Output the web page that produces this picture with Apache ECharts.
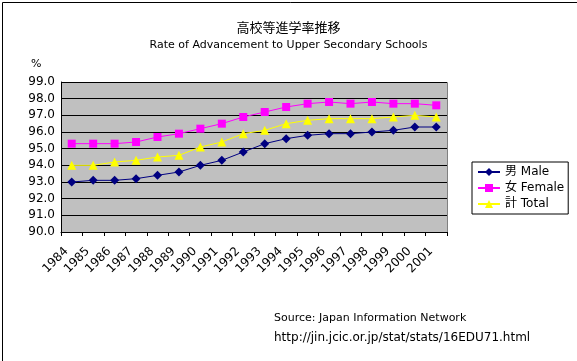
<!DOCTYPE html>
<html><head><meta charset="utf-8">
<script src="https://cdn.jsdelivr.net/npm/echarts@6/dist/echarts.min.js"></script>
<style>html,body{margin:0;padding:0;background:#fff}#c{width:577px;height:361px}</style>
</head><body><div id="c"></div>
<script>
const years = ['1984','1985','1986','1987','1988','1989','1990','1991','1992','1993','1994','1995','1996','1997','1998','1999','2000','2001'];
const male   = [93.0,93.1,93.1,93.2,93.4,93.6,94.0,94.3,94.8,95.3,95.6,95.8,95.9,95.9,96.0,96.1,96.3,96.3];
const female = [95.3,95.3,95.3,95.4,95.7,95.9,96.2,96.5,96.9,97.2,97.5,97.7,97.8,97.7,97.8,97.7,97.7,97.6];
const total  = [94.0,94.0,94.2,94.3,94.5,94.6,95.1,95.4,95.9,96.1,96.5,96.7,96.8,96.8,96.8,96.9,97.0,96.9];
const seriesNames = ['男 Male','女 Female','計 Total'];
const yTicks = {min: 90, max: 99, interval: 1};

const font = "'DejaVu Sans','Noto Sans CJK JP',sans-serif";
const chart = echarts.init(document.getElementById('c'));
const grid = {left: 61, top: 82, width: 386, height: 150};
chart.setOption({
  animation: false,
  backgroundColor: '#fff',
  textStyle: {fontFamily: font},
  title: [
    {text: '高校等進学率推移', left: 'center', top: 16, textStyle: {fontSize: 13, fontWeight: 'normal', color: '#000', fontFamily: "'Noto Sans CJK JP',sans-serif"}},
    {text: 'Rate of Advancement to Upper Secondary Schools', left: 'center', top: 35, textStyle: {fontSize: 11, fontWeight: 'normal', color: '#000'}}
  ],
  graphic: [
    {type: 'rect', left: 0, top: 0, shape: {width: 576, height: 360}, style: {fill: 'none', stroke: '#000', lineWidth: 1}, silent: true, z: -10},
    {type: 'rect', left: grid.left, top: grid.top, shape: {width: grid.width, height: grid.height}, style: {fill: '#C0C0C0', stroke: '#808080', lineWidth: 1}, silent: true, z: -5},
    {type: 'text', left: 31, top: 59, style: {text: '%', fontSize: 11, fill: '#000', fontFamily: font}},
    {type: 'text', left: 274, top: 313, style: {text: 'Source: Japan Information Network', fontSize: 11, fill: '#000', fontFamily: font}},
    {type: 'text', left: 274, top: 332, style: {text: 'http://jin.jcic.or.jp/stat/stats/16EDU71.html', fontSize: 12, fill: '#000', fontFamily: font}}
  ],
  legend: {
    orient: 'vertical', left: 472, top: 162,
    padding: [4, 4, 4, 5], itemGap: 4, itemWidth: 22, itemHeight: 10,
    borderColor: '#000', borderWidth: 1, backgroundColor: '#fff',
    textStyle: {fontSize: 12, color: '#000', fontFamily: font},
    data: seriesNames
  },
  grid: grid,
  xAxis: {
    type: 'category', data: years, boundaryGap: true,
    axisLine: {lineStyle: {color: '#000', width: 1}},
    axisTick: {show: true, length: 4, lineStyle: {color: '#000'}},
    axisLabel: {rotate: 45, fontSize: 12, color: '#000', margin: 12, interval: 0, fontFamily: font,
      formatter: v => v + '  '},
    splitLine: {show: false}
  },
  yAxis: {
    type: 'value', min: yTicks.min, max: yTicks.max, interval: yTicks.interval,
    axisLine: {show: true, lineStyle: {color: '#000', width: 1}},
    axisTick: {show: false},
    axisLabel: {fontSize: 12, color: '#000', margin: 6, formatter: v => v.toFixed(1), fontFamily: font},
    splitLine: {show: true, lineStyle: {color: '#000', width: 1}}
  },
  series: [
    {name: seriesNames[0], type: 'line', data: male, symbol: 'diamond', symbolSize: 9,
     itemStyle: {color: '#000080'}, lineStyle: {color: '#000080', width: 1}},
    {name: seriesNames[1], type: 'line', data: female, symbol: 'rect', symbolSize: 8,
     itemStyle: {color: '#FF00FF'}, lineStyle: {color: '#FF00FF', width: 1}},
    {name: seriesNames[2], type: 'line', data: total, symbol: 'triangle', symbolSize: 9,
     itemStyle: {color: '#FFFF00'}, lineStyle: {color: '#FFFF00', width: 1}}
  ]
});
</script></body></html>
